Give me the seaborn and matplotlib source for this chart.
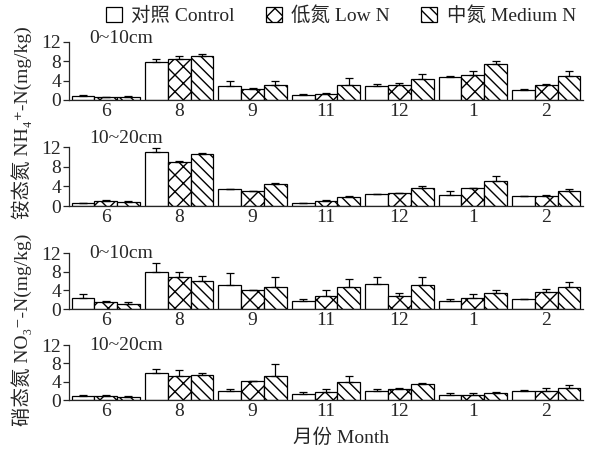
import numpy as np
import pandas as pd
import matplotlib
matplotlib.use('Agg')
import matplotlib.pyplot as plt
from matplotlib.patches import Patch
import seaborn as sns

# Data (mean values and upper error bar lengths)
months = ['6', '8', '9', '11', '12', '1', '2']
treatments = ['对照 Control', '低氮 Low N', '中氮 Medium N']

# NH4+-N, 0~10cm
nh4_010_ctrl = [0.9, 7.85, 2.9, 1.1, 2.9, 4.8, 2.1]
nh4_010_low = [0.6, 8.5, 2.3, 1.3, 3.05, 5.1, 3.0]
nh4_010_med = [0.7, 9.1, 3.05, 3.05, 4.4, 7.4, 5.0]
nh4_010_ctrl_err = [0.15, 0.55, 1.1, 0.2, 0.4, 0.15, 0.2]
nh4_010_low_err = [0.1, 0.7, 0.1, 0.15, 0.45, 0.9, 0.3]
nh4_010_med_err = [0.2, 0.5, 0.95, 1.45, 0.9, 0.7, 1.1]

# NH4+-N, 10~20cm
nh4_1020_ctrl = [0.6, 11.0, 3.45, 0.55, 2.35, 2.2, 2.0]
nh4_1020_low = [1.1, 8.9, 3.05, 1.1, 2.55, 3.6, 2.0]
nh4_1020_med = [0.8, 10.55, 4.4, 1.8, 3.6, 5.05, 3.05]
nh4_1020_ctrl_err = [0.05, 0.9, 0.1, 0.15, 0.15, 0.8, 0.1]
nh4_1020_low_err = [0.15, 0.3, 0.05, 0.2, 0.15, 0.05, 0.15]
nh4_1020_med_err = [0.15, 0.2, 0.25, 0.3, 0.5, 1.05, 0.45]

# NO3--N, 0~10cm
no3_010_ctrl = [2.35, 8.0, 5.2, 1.65, 5.4, 1.75, 2.15]
no3_010_low = [1.4, 6.9, 4.1, 2.85, 2.7, 2.35, 3.7]
no3_010_med = [1.05, 5.9, 4.7, 4.7, 5.1, 3.4, 4.7]
no3_010_ctrl_err = [0.95, 1.9, 2.6, 0.55, 1.4, 0.45, 0.05]
no3_010_low_err = [0.35, 0.95, 0.05, 1.15, 0.8, 0.85, 0.6]
no3_010_med_err = [0.4, 1.25, 2.2, 1.7, 1.7, 0.75, 1.05]

# NO3--N, 10~20cm
no3_1020_ctrl = [0.93, 5.8, 2.05, 1.3, 1.95, 1.15, 1.95]
no3_1020_low = [0.93, 5.15, 4.2, 1.8, 2.3, 1.0, 1.95]
no3_1020_med = [0.57, 5.55, 5.15, 3.9, 3.45, 1.6, 2.7]
no3_1020_ctrl_err = [0.22, 1.0, 0.4, 0.35, 0.4, 0.3, 0.2]
no3_1020_low_err = [0.22, 1.45, 0.05, 0.5, 0.35, 0.45, 0.6]
no3_1020_med_err = [0.23, 0.4, 2.7, 1.25, 0.35, 0.2, 0.5]

hatches = ['', 'xx', '\\\\\\']

sns.set_style('ticks')
plt.rcParams['font.family'] = ['Liberation Serif', 'Noto Sans CJK SC', 'DejaVu Serif']
plt.rcParams['hatch.linewidth'] = 1.0
FS = 14


def draw_panel(ax, means, errs, depth, label_y=1.0):
    df = pd.DataFrame({
        'month': np.tile(months, len(treatments)),
        'treatment': np.repeat(treatments, len(months)),
        'value': np.concatenate(means),
    })
    sns.barplot(data=df, x='month', y='value', hue='treatment',
                order=months, hue_order=treatments,
                palette=['white'] * 3, edgecolor='black', linewidth=0.9,
                width=0.93, gap=0, errorbar=None, legend=False, ax=ax)

    # hatches + one-sided error bars
    for cont, hatch, err in zip(ax.containers, hatches, errs):
        xs = [b.get_x() + b.get_width() / 2 for b in cont]
        hs = [b.get_height() for b in cont]
        for b in cont:
            b.set_hatch(hatch)
        ax.errorbar(xs, hs, yerr=[np.zeros(len(err)), err], fmt='none',
                    ecolor='black', elinewidth=0.9, capsize=3, capthick=0.9)

    ax.set_xlim(-0.5, 6.5)
    ax.set_ylim(0, 12)
    ax.set_yticks([0, 4, 8, 12])
    ax.set_xlabel('')
    ax.set_ylabel('')
    sns.despine(ax=ax)
    ax.tick_params(axis='x', length=0, labelsize=FS, pad=2)
    ax.tick_params(axis='y', length=4, width=0.9, labelsize=FS, pad=1.5)
    for s in ['left', 'bottom']:
        ax.spines[s].set_linewidth(0.9)
    ax.text(0.04, label_y, depth, transform=ax.transAxes, fontsize=FS,
            ha='left', va='center')


fig = plt.figure(figsize=(5.93, 4.5), dpi=100)
left, width = 69 / 593, 514 / 593
ax1 = fig.add_axes([left, 0.7778, width, 0.1289])
ax2 = fig.add_axes([left, 0.5422, width, 0.1311])
ax3 = fig.add_axes([left, 0.3133, width, 0.1244])
ax4 = fig.add_axes([left, 0.1111, width, 0.1222])

draw_panel(ax1, [nh4_010_ctrl, nh4_010_low, nh4_010_med],
           [nh4_010_ctrl_err, nh4_010_low_err, nh4_010_med_err], '0~10cm', 1.06)
draw_panel(ax2, [nh4_1020_ctrl, nh4_1020_low, nh4_1020_med],
           [nh4_1020_ctrl_err, nh4_1020_low_err, nh4_1020_med_err], '10~20cm', 1.15)
draw_panel(ax3, [no3_010_ctrl, no3_010_low, no3_010_med],
           [no3_010_ctrl_err, no3_010_low_err, no3_010_med_err], '0~10cm', 1.0)
draw_panel(ax4, [no3_1020_ctrl, no3_1020_low, no3_1020_med],
           [no3_1020_ctrl_err, no3_1020_low_err, no3_1020_med_err], '10~20cm', 1.0)

# legend at top
handles = [Patch(facecolor='white', edgecolor='black', hatch=h, linewidth=0.9)
           for h in hatches]
fig.legend(handles, treatments, loc='center', bbox_to_anchor=(0.575, 0.965),
           ncol=3, frameon=False, fontsize=FS, handlelength=0.8,
           handleheight=0.8, handletextpad=0.5, columnspacing=1.6)

fig.text(0.037, 0.728, '铵态氮 NH₄⁺-N(mg/kg)', rotation=90, fontsize=FS,
         ha='center', va='center')
fig.text(0.037, 0.267, '硝态氮 NO₃⁻-N(mg/kg)', rotation=90, fontsize=FS,
         ha='center', va='center')
fig.text(0.575, 0.028, '月份 Month', fontsize=FS, ha='center', va='center')

fig.savefig('out.png', dpi=100)
